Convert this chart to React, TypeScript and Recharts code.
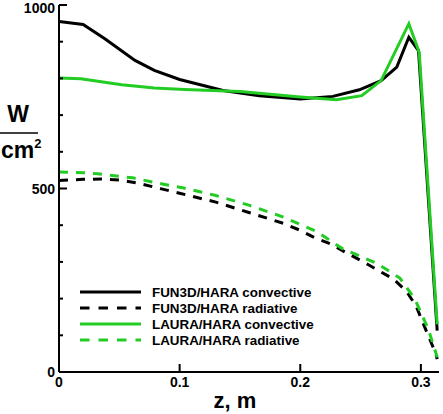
import React from "react";
import { LineChart, Line, XAxis, YAxis } from "recharts";

const BLACK = "#000000";
const GREEN = "#22cc22";

const fun3dConvZ = [0, 0.02, 0.038, 0.063, 0.079, 0.1, 0.136, 0.166, 0.2, 0.227, 0.249, 0.267, 0.28, 0.29, 0.298, 0.3135];
const fun3dConvV = [955, 947, 908, 849, 822, 797, 767, 753, 744, 751, 769, 794, 831, 912, 876, 113];

const lauraConvZ = [0, 0.018, 0.052, 0.079, 0.104, 0.15, 0.2, 0.23, 0.251, 0.267, 0.29, 0.2986, 0.3135];
const lauraConvV = [801, 799, 783, 774, 770, 764, 749, 742, 753, 794, 949, 871, 130];

const fun3dRadZ = [0, 0.02, 0.035, 0.05, 0.065, 0.085, 0.1, 0.13, 0.158, 0.186, 0.2, 0.213, 0.226, 0.238, 0.253, 0.264, 0.277, 0.288, 0.296, 0.3047, 0.3124, 0.3135];
const fun3dRadV = [522, 525, 526, 523, 515, 499, 487, 463, 434, 405, 386, 364, 348, 325, 299, 278, 254, 220, 180, 110, 50, 35];

const lauraRadZ = [0, 0.02, 0.032, 0.061, 0.0876, 0.1025, 0.13, 0.158, 0.186, 0.2, 0.213, 0.2355, 0.263, 0.2826, 0.2951, 0.306, 0.3124, 0.3135];
const lauraRadV = [545, 543, 540, 529, 511, 502, 481, 454, 422, 402, 384, 335, 297, 256, 198, 118, 52, 40];

const xTicks = [0, 0.1, 0.2, 0.3];
const yTicks = [0, 100, 200, 300, 400, 500, 600, 700, 800, 900, 1000];
const yLabeled = [0, 500, 1000];

const seriesNames = [
  "FUN3D/HARA convective",
  "FUN3D/HARA radiative",
  "LAURA/HARA convective",
  "LAURA/HARA radiative",
];

const zip = (zs: number[], vs: number[]) => zs.map((z, i) => ({ z, v: vs[i] }));

const FONT = "'Liberation Sans', Arial, sans-serif";

const XTick = (props: any) => {
  const { x, y, payload } = props;
  const v = payload.value;
  return (
    <g>
      {v !== 0 && <line x1={x} y1={y} x2={x} y2={y - 8} stroke={BLACK} strokeWidth={2} />}
      <text x={x} y={y + 15} textAnchor="middle" fontFamily={FONT} fontWeight="bold" fontSize={14} fill={BLACK}>
        {String(v)}
      </text>
    </g>
  );
};

const YTick = (props: any) => {
  const { x, y, payload } = props;
  const v = payload.value;
  const major = yLabeled.includes(v);
  return (
    <g>
      {v !== 0 && <line x1={x} y1={y} x2={x + (major ? 8 : 4)} y2={y} stroke={BLACK} strokeWidth={2} />}
      {major && (
        <text x={x - 4} y={y + (v === 1000 ? 8 : 5)} textAnchor="end" fontFamily={FONT} fontWeight="bold" fontSize={14} fill={BLACK}>
          {String(v)}
        </text>
      )}
    </g>
  );
};

const legendItems = [
  { name: seriesNames[0], color: BLACK, dash: undefined },
  { name: seriesNames[1], color: BLACK, dash: "9.5 9" },
  { name: seriesNames[2], color: GREEN, dash: undefined },
  { name: seriesNames[3], color: GREEN, dash: "9.5 9" },
];
const legendRowY = [292, 308, 324, 340];

export default function App() {
  return (
    <div style={{ position: "absolute", left: 0, top: 0, width: 443, height: 414, background: "#fff" }}>
      <LineChart width={443} height={414} margin={{ top: 5, right: 4, bottom: 12, left: 0 }} style={{ overflow: "visible" }}>
        <XAxis
          type="number"
          dataKey="z"
          domain={[0, 0.315]}
          ticks={xTicks}
          interval={0}
          height={30}
          tickSize={0}
          tickMargin={0}
          tickLine={false}
          axisLine={{ stroke: BLACK, strokeWidth: 2 }}
          tick={XTick}
          allowDataOverflow
        />
        <YAxis
          type="number"
          dataKey="v"
          domain={[0, 1000]}
          ticks={yTicks}
          interval={0}
          width={59}
          tickSize={0}
          tickMargin={0}
          tickLine={false}
          axisLine={{ stroke: BLACK, strokeWidth: 2 }}
          tick={YTick}
          allowDataOverflow
        />
        <Line data={zip(fun3dRadZ, fun3dRadV)} dataKey="v" name={seriesNames[1]} stroke={BLACK} strokeWidth={3} strokeDasharray="9 8" dot={false} isAnimationActive={false} />
        <Line data={zip(lauraRadZ, lauraRadV)} dataKey="v" name={seriesNames[3]} stroke={GREEN} strokeWidth={3} strokeDasharray="9 8" dot={false} isAnimationActive={false} />
        <Line data={zip(fun3dConvZ, fun3dConvV)} dataKey="v" name={seriesNames[0]} stroke={BLACK} strokeWidth={3} dot={false} isAnimationActive={false} />
        <Line data={zip(lauraConvZ, lauraConvV)} dataKey="v" name={seriesNames[2]} stroke={GREEN} strokeWidth={3} dot={false} isAnimationActive={false} />
      </LineChart>
      <svg width={443} height={414} style={{ position: "absolute", left: 0, top: 0, pointerEvents: "none" }}>
        <text x={18} y={122} textAnchor="middle" fontFamily={FONT} fontWeight="bold" fontSize={23} fill={BLACK}>W</text>
        <line x1={0} y1={133} x2={38} y2={133} stroke={BLACK} strokeWidth={1.5} />
        <text x={1} y={158} fontFamily={FONT} fontWeight="bold" fontSize={23} fill={BLACK}>
          cm<tspan fontSize={13} dy={-10}>2</tspan>
        </text>
        <text x={235} y={408} textAnchor="middle" fontFamily={FONT} fontWeight="bold" fontSize={22} fill={BLACK}>z, m</text>
        {legendItems.map((it, i) => (
          <g key={it.name}>
            <line x1={80} y1={legendRowY[i]} x2={141} y2={legendRowY[i]} stroke={it.color} strokeWidth={3} strokeDasharray={it.dash} />
            <text x={152} y={legendRowY[i] + 5} fontFamily={FONT} fontWeight="bold" fontSize={13.4} fill={BLACK}>{it.name}</text>
          </g>
        ))}
      </svg>
    </div>
  );
}
